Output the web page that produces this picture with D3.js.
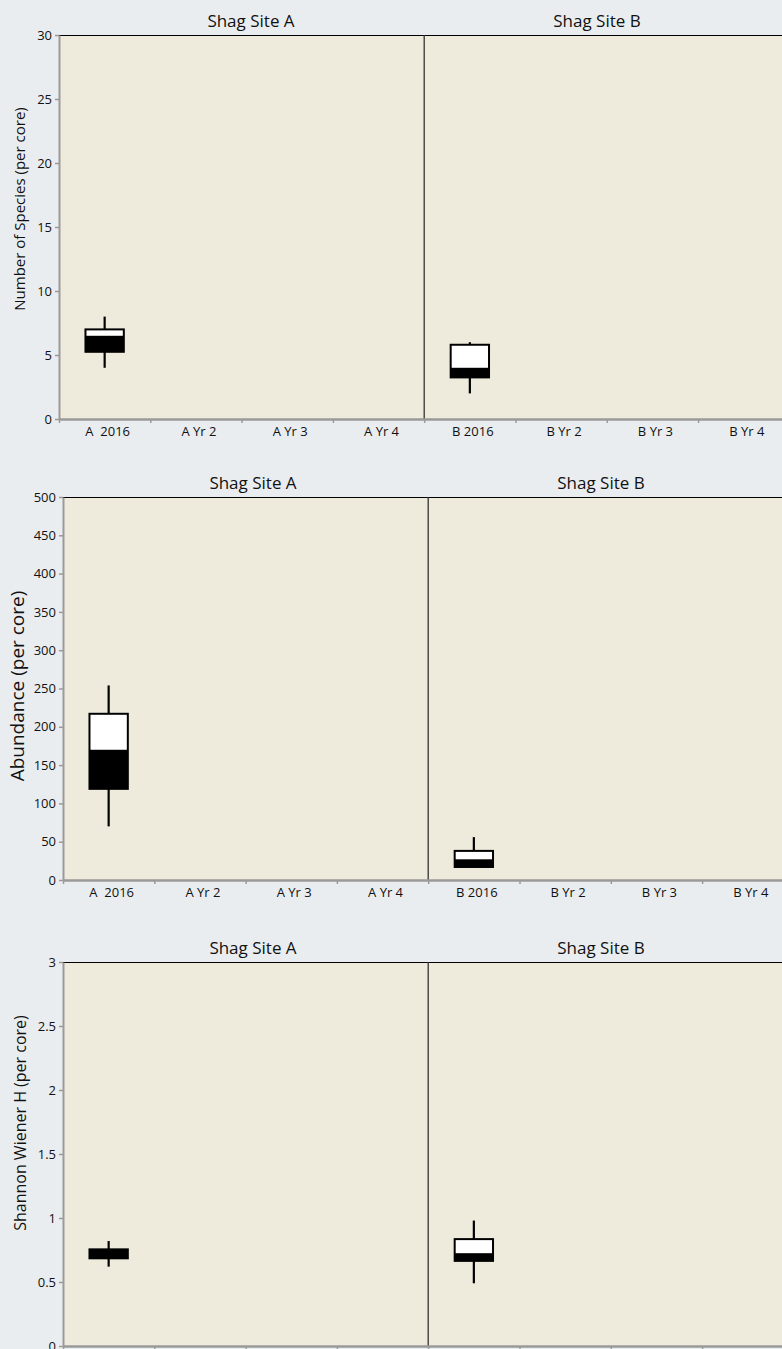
<!DOCTYPE html>
<html><head><meta charset="utf-8">
<script src="https://cdn.jsdelivr.net/npm/d3@7"></script>
<style>
html,body{margin:0;padding:0;background:#eaedf0;overflow:hidden}
svg{display:block}
text{font-family:"Open Sans","Noto Sans",sans-serif;fill:#111}
</style></head><body>
<script>
// ---- data ----
const categories = ["A  2016","A Yr 2","A Yr 3","A Yr 4","B 2016","B Yr 2","B Yr 3","B Yr 4"];
const siteTitles = ["Shag Site A","Shag Site B"];
// box stats: [min, Q1, median, Q3, max]
const speciesA2016 = [4, 5.25, 6.5, 7, 8];
const speciesB2016 = [2, 3.25, 4, 5.8, 6];
const abundanceA2016 = [70, 119, 170, 217, 254];
const abundanceB2016 = [17, 17, 27, 38, 56];
const shannonA2016 = [0.62, 0.685, 0.755, 0.755, 0.82];
const shannonB2016 = [0.49, 0.665, 0.725, 0.835, 0.98];
const speciesTicks = [0,5,10,15,20,25,30];
const abundanceTicks = [0,50,100,150,200,250,300,350,400,450,500];
const shannonTicks = [0,0.5,1,1.5,2,2.5,3];
const yLabels = ["Number of Species (per core)","Abundance (per core)","Shannon Wiener H (per core)"];

const W = 782, H = 1349;
const svg = d3.select("body").append("svg").attr("width", W).attr("height", H);

const panels = [
  {x0:59, step:91.3, top:35, bottom:419, ticks:speciesTicks, max:30, boxes:[[categories[0],speciesA2016],[categories[4],speciesB2016]], label:yLabels[0], lsize:15, lcy:209, lx:25, titleX:[251,597], xlabels:true},
  {x0:63, step:91.3, top:497, bottom:880, ticks:abundanceTicks, max:500, boxes:[[categories[0],abundanceA2016],[categories[4],abundanceB2016]], label:yLabels[1], lsize:19, lcy:686, lx:24, titleX:[253,601], xlabels:true},
  {x0:63, step:91.3, top:962, bottom:1346, ticks:shannonTicks, max:3, boxes:[[categories[0],shannonA2016],[categories[4],shannonB2016]], label:yLabels[2], lsize:16, lcy:1123, lx:26, titleX:[253,601], xlabels:false}
];

panels.forEach(p => {
  const g = svg.append("g");
  const x = d3.scaleBand().domain(categories).range([p.x0, p.x0 + 8*p.step]).padding(0);
  const xl = d3.scaleLinear().domain([0,8]).range([p.x0, p.x0 + 8*p.step]);
  const y = d3.scaleLinear().domain([0, p.max]).range([p.bottom, p.top]);

  // plot background
  g.append("rect").attr("x", p.x0).attr("y", p.top)
    .attr("width", 8*p.step).attr("height", p.bottom - p.top).attr("fill", "#efebdc");
  // top border
  g.append("line").attr("x1", p.x0).attr("x2", p.x0 + 8*p.step)
    .attr("y1", p.top + 0.5).attr("y2", p.top + 0.5).attr("stroke", "#000").attr("stroke-width", 1);
  // divider between sites
  g.append("line").attr("x1", xl(4)).attr("x2", xl(4))
    .attr("y1", p.top).attr("y2", p.bottom).attr("stroke", "#333").attr("stroke-width", 1.3);

  // titles
  siteTitles.forEach((t,i) => {
    g.append("text").attr("x", p.titleX[i]).attr("y", p.top - 8)
      .attr("text-anchor","middle").style("font-size","17px").text(t);
  });

  // y axis
  const ya = g.append("g").attr("transform", `translate(${p.x0},0)`)
    .call(d3.axisLeft(y).tickValues(p.ticks).tickSize(4).tickSizeOuter(0).tickPadding(3).tickFormat(d3.format("")));
  ya.select(".domain").attr("stroke","#9a9a9a").attr("stroke-width",2);
  ya.selectAll(".tick line").attr("stroke","#9a9a9a").attr("stroke-width",1.5);
  ya.selectAll(".tick text").style("font-size","13px").style("font-family","'Open Sans',sans-serif").attr("fill","#111");

  // x axis: boundary ticks
  const xa = g.append("g").attr("transform", `translate(0,${p.bottom})`)
    .call(d3.axisBottom(xl).tickValues(d3.range(0,9)).tickSize(4).tickSizeOuter(0).tickFormat(""));
  xa.select(".domain").attr("stroke","#9a9a9a").attr("stroke-width",2.5);
  xa.selectAll(".tick line").attr("stroke","#9a9a9a").attr("stroke-width",1.5);
  // x axis: category labels (the last panel's fall below the picture edge)
  if (p.xlabels) {
    const xb = g.append("g").attr("transform", `translate(0,${p.bottom})`)
      .call(d3.axisBottom(x).tickSize(0).tickPadding(8));
    xb.select(".domain").remove();
    xb.selectAll(".tick text").style("font-size","13px").style("font-family","'Open Sans',sans-serif")
      .style("white-space","pre").attr("dx", 3).attr("fill","#111");
  }

  // y label
  g.append("text").attr("transform", `translate(${p.lx},${p.lcy}) rotate(-90)`)
    .attr("text-anchor","middle").style("font-size", p.lsize + "px").text(p.label);

  // boxes
  const bw = x.bandwidth() * 0.42;
  p.boxes.forEach(([cat, s]) => {
    const cx = x(cat) + x.bandwidth()/2;
    const [mn, q1, md, q3, mx] = s;
    const b = g.append("g");
    b.append("line").attr("x1",cx).attr("x2",cx).attr("y1",y(mx)).attr("y2",y(q3))
      .attr("stroke","#000").attr("stroke-width",2.2);
    b.append("line").attr("x1",cx).attr("x2",cx).attr("y1",y(q1)).attr("y2",y(mn))
      .attr("stroke","#000").attr("stroke-width",2.2);
    b.append("rect").attr("x",cx-bw/2).attr("y",y(q3)).attr("width",bw).attr("height",Math.max(0,y(md)-y(q3)))
      .attr("fill","#fff");
    b.append("rect").attr("x",cx-bw/2).attr("y",y(md)).attr("width",bw).attr("height",Math.max(0,y(q1)-y(md)))
      .attr("fill","#000");
    b.append("rect").attr("x",cx-bw/2).attr("y",y(q3)).attr("width",bw).attr("height",Math.max(0,y(q1)-y(q3)))
      .attr("fill","none").attr("stroke","#000").attr("stroke-width",2);
  });
});
</script>
</body></html>
